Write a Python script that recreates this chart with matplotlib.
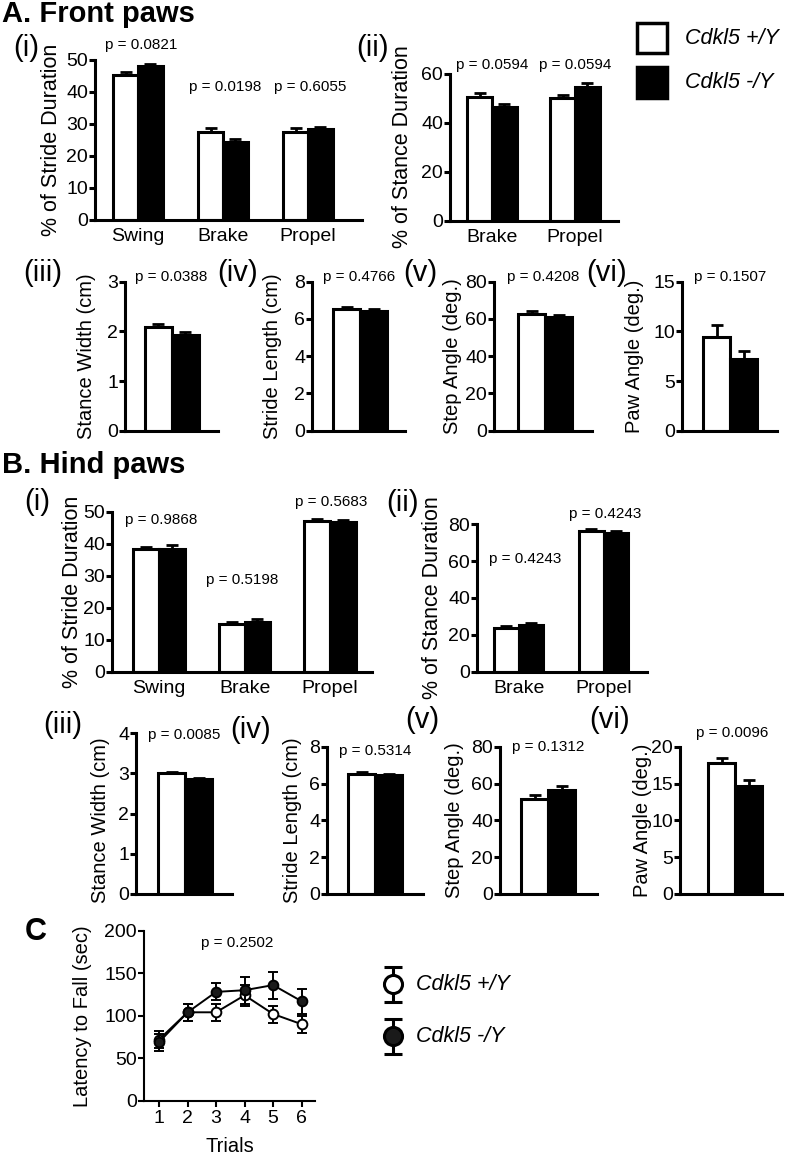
import numpy as np
import matplotlib
matplotlib.use('Agg')
import matplotlib.pyplot as plt
from matplotlib.patches import Rectangle

plt.rcParams['font.family'] = ['Liberation Sans', 'DejaVu Sans']

# ---------------- data ----------------
stride_cats = ['Swing', 'Brake', 'Propel']
stance_cats = ['Brake', 'Propel']
group_labels = ['Cdkl5 +/Y', 'Cdkl5 -/Y']

front_stride_wt = [45.3, 27.6, 27.6]
front_stride_wt_err = [1.0, 1.0, 1.0]
front_stride_ko = [48.1, 24.3, 28.4]
front_stride_ko_err = [0.8, 1.0, 0.8]
front_stride_p = ['p = 0.0821', 'p = 0.0198', 'p = 0.6055']

front_stance_wt = [50.5, 50.0]
front_stance_wt_err = [1.6, 1.4]
front_stance_ko = [46.4, 54.6]
front_stance_ko_err = [1.3, 1.6]
front_stance_p = ['p = 0.0594', 'p = 0.0594']

small_ylabels = ['Stance Width (cm)', 'Stride Length (cm)', 'Step Angle (deg.)', 'Paw Angle (deg.)']
small_tags = ['(iii)', '(iv)', '(v)', '(vi)']

front_small_wt = [2.09, 6.53, 62.7, 9.4]
front_small_wt_err = [0.05, 0.09, 1.7, 1.2]
front_small_ko = [1.93, 6.44, 61.0, 7.2]
front_small_ko_err = [0.05, 0.09, 1.0, 0.85]
front_small_p = ['p = 0.0388', 'p = 0.4766', 'p = 0.4208', 'p = 0.1507']
front_small_ymax = [3, 8, 80, 15]
front_small_ystep = [1, 2, 20, 5]

hind_stride_wt = [38.3, 14.9, 47.2]
hind_stride_wt_err = [0.7, 0.5, 0.5]
hind_stride_ko = [38.5, 15.6, 46.7]
hind_stride_ko_err = [1.0, 0.9, 0.6]
hind_stride_p = ['p = 0.9868', 'p = 0.5198', 'p = 0.5683']

hind_stance_wt = [23.9, 76.6]
hind_stance_wt_err = [0.9, 0.7]
hind_stance_ko = [25.3, 75.5]
hind_stance_ko_err = [0.9, 0.8]
hind_stance_p = ['p = 0.4243', 'p = 0.4243']

hind_small_wt = [3.00, 6.52, 51.7, 17.8]
hind_small_wt_err = [0.04, 0.08, 1.8, 0.6]
hind_small_ko = [2.86, 6.47, 56.4, 14.7]
hind_small_ko_err = [0.03, 0.07, 2.1, 0.8]
hind_small_p = ['p = 0.0085', 'p = 0.5314', 'p = 0.1312', 'p = 0.0096']
hind_small_ymax = [4, 8, 80, 20]
hind_small_ystep = [1, 2, 20, 5]

trials = [1, 2, 3, 4, 5, 6]
latency_wt = [72, 104, 104, 124, 102, 90]
latency_wt_err = [10, 10, 10, 12, 10, 10]
latency_ko = [69, 104, 128, 130, 136, 117]
latency_ko_err = [10, 10, 10, 16, 16, 15]
latency_p = 'p = 0.2502'

# ---------------- layout helpers ----------------
W, H = 786, 1154
fig = plt.figure(figsize=(W / 100, H / 100), dpi=100)

LW = 2.2
TICK_FS = 14
LAB_FS = 14.5
MAIN_LAB_FS = 15.5
P_FS = 11
TAG_FS = 21


def px_axes(x0, x1, ytop, ybot):
    return fig.add_axes([x0 / W, 1 - ybot / H, (x1 - x0) / W, (ybot - ytop) / H])


def style(ax, lw=LW):
    for s in ['top', 'right']:
        ax.spines[s].set_visible(False)
    for s in ['left', 'bottom']:
        ax.spines[s].set_linewidth(lw)
    ax.tick_params(axis='y', direction='out', length=4, width=lw, labelsize=TICK_FS, pad=1)
    ax.tick_params(axis='x', length=0, labelsize=TICK_FS, pad=6)
    ax.set_facecolor('none')


def bar_panel(box, xlim, w, wt, wte, ko, koe, ymax, ystep, cats=None):
    ax = px_axes(*box)
    n = len(wt)
    x = np.arange(n)
    ax.bar(x - w / 2, wt, w, color='white', edgecolor='black', linewidth=2.2, zorder=2)
    ax.bar(x + w / 2, ko, w, color='black', edgecolor='black', linewidth=2.2, zorder=2)
    ax.errorbar(x - w / 2, wt, yerr=[np.zeros(n), wte], fmt='none', ecolor='black',
                elinewidth=2, capsize=4.5, capthick=2, zorder=3)
    ax.errorbar(x + w / 2, ko, yerr=[np.zeros(n), koe], fmt='none', ecolor='black',
                elinewidth=2, capsize=4.5, capthick=2, zorder=3)
    ax.set_xlim(*xlim)
    ax.set_ylim(0, ymax)
    ax.set_yticks(np.arange(0, ymax + ystep / 2, ystep))
    if cats:
        ax.set_xticks(x)
        ax.set_xticklabels(cats)
    else:
        ax.set_xticks([])
    style(ax)
    return ax


def small_xlim(x0, x1, c, bw=27.0):
    return ((x0 - c) / bw, (x1 - c) / bw)


# ---------------- Panel A ----------------
bar_panel((95, 362, 60, 220), (-0.506, 2.635), 0.29,
          front_stride_wt, front_stride_wt_err, front_stride_ko, front_stride_ko_err,
          50, 10, stride_cats)
bar_panel((450, 618, 74, 220.7), (-0.506, 1.518), 0.30,
          front_stance_wt, front_stance_wt_err, front_stance_ko, front_stance_ko_err,
          60, 20, stance_cats)

a_small_x = [(125, 218, 172), (312, 405, 360), (494, 592, 545), (682, 777, 730)]
for i, (x0, x1, c) in enumerate(a_small_x):
    bar_panel((x0, x1, 281.7, 430.7), small_xlim(x0, x1, c), 1.0,
              [front_small_wt[i]], [front_small_wt_err[i]],
              [front_small_ko[i]], [front_small_ko_err[i]],
              front_small_ymax[i], front_small_ystep[i])

# ---------------- Panel B ----------------
bar_panel((112, 372, 511.7, 671.7), (-0.55, 2.49), 0.30,
          hind_stride_wt, hind_stride_wt_err, hind_stride_ko, hind_stride_ko_err,
          50, 10, stride_cats)
bar_panel((477, 647, 524.3, 671.7), (-0.49, 1.51), 0.29,
          hind_stance_wt, hind_stance_wt_err, hind_stance_ko, hind_stance_ko_err,
          80, 20, stance_cats)

b_small_x = [(136, 232, 185, 733), (327, 423, 375, 746.7), (500, 597, 548, 746.7), (680, 782, 735, 746.7)]
for i, (x0, x1, c, yt) in enumerate(b_small_x):
    bar_panel((x0, x1, yt, 894), small_xlim(x0, x1, c), 1.0,
              [hind_small_wt[i]], [hind_small_wt_err[i]],
              [hind_small_ko[i]], [hind_small_ko_err[i]],
              hind_small_ymax[i], hind_small_ystep[i])

# ---------------- Panel C ----------------
axc = px_axes(144, 315, 930.7, 1100.7)
axc.errorbar(trials, latency_wt, yerr=latency_wt_err, fmt='-o', color='black',
             mfc='white', mec='black', mew=1.4, ms=7, lw=1.4, elinewidth=1.4,
             capsize=3.5, capthick=1.4, zorder=3)
axc.errorbar(trials, latency_ko, yerr=latency_ko_err, fmt='-o', color='black',
             mfc='#1a1a1a', mec='black', mew=1.4, ms=7, lw=1.4, elinewidth=1.4,
             capsize=3.5, capthick=1.4, zorder=4)
axc.set_xlim(0.47, 6.47)
axc.set_ylim(0, 200)
axc.set_yticks([0, 50, 100, 150, 200])
axc.set_xticks(trials)
style(axc, lw=1.5)
axc.tick_params(axis='x', length=4, width=1.5, pad=3)
axc.tick_params(axis='y', length=4, width=1.5)

# ---------------- overlay for text / legends ----------------
ov = fig.add_axes([0, 0, 1, 1])
ov.set_xlim(0, W)
ov.set_ylim(H, 0)
ov.axis('off')
ov.patch.set_visible(False)


def t(x, y, s, fs, **kw):
    kw.setdefault('ha', 'center')
    kw.setdefault('va', 'center')
    ov.text(x, y, s, fontsize=fs, **kw)


# headers
t(2, 14, 'A. Front paws', 21, ha='left', fontweight='bold')
t(2, 465, 'B. Hind paws', 21, ha='left', fontweight='bold')
t(36, 932, 'C', 22, fontweight='bold')

# panel tags
for (x, y), s in zip([(26, 48), (372, 48)], ['(i)', '(ii)']):
    t(x, y, s, TAG_FS)
for (x, y), s in zip([(43, 273), (238, 273), (420, 273), (607, 273)], small_tags):
    t(x, y, s, TAG_FS)
for (x, y), s in zip([(37, 502), (402, 503)], ['(i)', '(ii)']):
    t(x, y, s, TAG_FS)
for (x, y), s in zip([(63, 725), (251, 730), (422, 720), (610, 720)], small_tags):
    t(x, y, s, TAG_FS)

# y labels
for (x, y), s in zip([(52, 140), (402, 147)], ['% of Stride Duration', '% of Stance Duration']):
    t(x, y, s, MAIN_LAB_FS, rotation=90)
for x, s in zip([87, 273, 452, 635], small_ylabels):
    t(x, 356, s, LAB_FS, rotation=90)
for (x, y), s in zip([(72, 592), (432, 598)], ['% of Stride Duration', '% of Stance Duration']):
    t(x, y, s, MAIN_LAB_FS, rotation=90)
for x, s in zip([100, 293, 455, 642], small_ylabels):
    t(x, 820, s, LAB_FS, rotation=90)
t(82, 1016, 'Latency to Fall (sec)', LAB_FS, rotation=90)
t(230, 1146, 'Trials', LAB_FS)

# p values
for (x, y), s in zip([(141, 45), (225, 87), (310, 87)], front_stride_p):
    t(x, y, s, P_FS)
for (x, y), s in zip([(492, 65), (575, 65)], front_stance_p):
    t(x, y, s, P_FS)
for (x, y), s in zip([(171, 277), (359, 277), (543, 277), (730, 277)], front_small_p):
    t(x, y, s, P_FS)
for (x, y), s in zip([(161, 520), (242, 580), (331, 502)], hind_stride_p):
    t(x, y, s, P_FS)
for (x, y), s in zip([(525, 559), (605, 514)], hind_stance_p):
    t(x, y, s, P_FS)
for (x, y), s in zip([(184, 735), (375, 751), (548, 747), (732, 733)], hind_small_p):
    t(x, y, s, P_FS)
t(237, 943, latency_p, P_FS)

# legend A
ov.add_patch(Rectangle((637, 23), 30, 30, facecolor='white', edgecolor='black', linewidth=2.5))
ov.add_patch(Rectangle((637, 67), 30, 31, facecolor='black', edgecolor='black', linewidth=2.5))
t(685, 38, group_labels[0], 15.5, ha='left', style='italic')
t(685, 82, group_labels[1], 15.5, ha='left', style='italic')

# legend C
ov.errorbar([393], [984], yerr=[17.5], fmt='o', color='black', mfc='white', mec='black',
            mew=2.2, ms=13, elinewidth=2.2, capsize=6.5, capthick=2.2)
ov.errorbar([393], [1036], yerr=[17.5], fmt='o', color='black', mfc='#1a1a1a', mec='black',
            mew=2.2, ms=13, elinewidth=2.2, capsize=6.5, capthick=2.2)
t(416, 984, group_labels[0], 15.5, ha='left', style='italic')
t(416, 1036, group_labels[1], 15.5, ha='left', style='italic')

fig.savefig('out.png', dpi=100)
